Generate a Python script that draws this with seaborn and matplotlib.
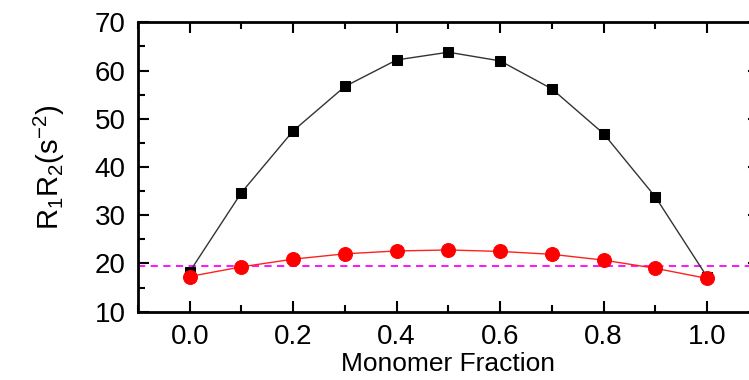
import numpy as np
import pandas as pd
import matplotlib
matplotlib.use("Agg")
import matplotlib.pyplot as plt
import seaborn as sns

# values
fraction = [0.0, 0.1, 0.2, 0.3, 0.4, 0.5, 0.6, 0.7, 0.8, 0.9, 1.0]
r1r2_black = [18.3, 34.7, 47.5, 56.7, 62.2, 63.8, 62.0, 56.2, 46.9, 33.8, 17.2]
r1r2_red = [17.3, 19.3, 20.9, 22.0, 22.6, 22.8, 22.5, 21.9, 20.7, 19.0, 16.9]
ref_level = 19.5

sns.set_style("ticks", {'axes.edgecolor': 'black', 'xtick.color': 'black',
                        'ytick.color': 'black', 'text.color': 'black',
                        'axes.labelcolor': 'black'})
plt.rcParams['font.family'] = ['Liberation Sans', 'DejaVu Sans']
plt.rcParams['mathtext.default'] = 'regular'

df = pd.DataFrame({'fraction': fraction, 'black': r1r2_black, 'red': r1r2_red})

fig = plt.figure(figsize=(7.49, 3.80), dpi=100)
ax = fig.add_axes([0.1842, 0.1797, 0.829, 0.7616])

sns.lineplot(data=df, x='fraction', y='black', ax=ax, color='#333333', lw=1,
             marker='s', markersize=7.5, markerfacecolor='black',
             markeredgecolor='black', zorder=3)
sns.lineplot(data=df, x='fraction', y='red', ax=ax, color='#ff2020', lw=1,
             marker='o', markersize=10, markerfacecolor='#ff0000',
             markeredgecolor='#ff0000', zorder=4)
ax.axhline(ref_level, color='#ff00ff', lw=1.3, ls=(0, (4, 3)), zorder=2)

ax.set_xlim(-0.1, 1.1)
ax.set_ylim(10, 70)
ax.set_xticks(np.arange(0, 1.01, 0.2))
ax.set_xticks(np.arange(-0.1, 1.11, 0.1), minor=True)
ax.set_yticks(np.arange(10, 71, 10))
ax.set_yticks(np.arange(10, 71, 5), minor=True)
ax.set_xticklabels(['0.0', '0.2', '0.4', '0.6', '0.8', '1.0'])

ax.tick_params(which='both', direction='in', top=True, right=True,
               width=1.5, labelsize=20, pad=9, colors='black')
ax.tick_params(which='major', length=8)
ax.tick_params(which='minor', length=5)
for s in ax.spines.values():
    s.set_linewidth(2)
    s.set_color('black')

ax.set_xlabel('Monomer Fraction', fontsize=19, labelpad=1)
ax.set_ylabel('R$_1$R$_2$(s$^{-2}$)', fontsize=21, labelpad=20)

fig.savefig('out.png', dpi=100)
